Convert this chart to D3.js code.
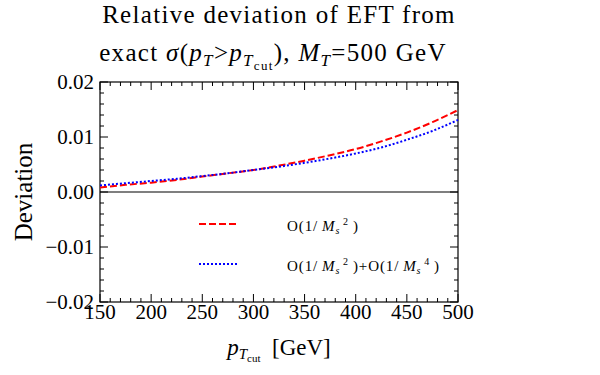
<!DOCTYPE html>
<html>
<head>
<meta charset="utf-8">
<script src="https://cdn.jsdelivr.net/npm/d3@7"></script>
<style>
  body { margin: 0; background: #fff; }
  text { font-family: "Liberation Serif", "DejaVu Serif", serif; fill: #000; }
</style>
</head>
<body>
<div id="chart"></div>
<script>
// values
const pTcut = [150, 175, 200, 225, 250, 275, 300, 325, 350, 375, 400, 425, 450, 475, 500];
const devMs2 = [0.0008, 0.0013, 0.0017, 0.0022, 0.0028, 0.0034, 0.0040, 0.0048, 0.0057, 0.0067, 0.0078, 0.0092, 0.0108, 0.0127, 0.0149];
const devMs2Ms4 = [0.0012, 0.0016, 0.0020, 0.0024, 0.0029, 0.0034, 0.0040, 0.0046, 0.0053, 0.0061, 0.0070, 0.0081, 0.0095, 0.0111, 0.0131];
const xTicks = [150, 200, 250, 300, 350, 400, 450, 500];
const yTicks = [-0.02, -0.01, 0.00, 0.01, 0.02];

const width = 600, height = 375;
const margin = {left: 100, right: 142, top: 82, bottom: 73};

const svg = d3.select("#chart").append("svg")
    .attr("width", width)
    .attr("height", height);

const x = d3.scaleLinear().domain([150, 500]).range([margin.left, width - margin.right]);
const y = d3.scaleLinear().domain([-0.02, 0.02]).range([height - margin.bottom, margin.top]);

const [x0, x1] = x.range();
const [y0, y1] = y.range(); // y0 bottom, y1 top

// frame ticks (inward, on all four sides)
const ticks = svg.append("g").attr("stroke", "#000").attr("stroke-width", 1);
const xMinor = d3.range(150, 501, 10);
const yMinor = d3.range(-0.02, 0.0201, 0.002);
xMinor.forEach(v => {
  const len = xTicks.includes(v) ? 8 : 4;
  ticks.append("line").attr("x1", x(v)).attr("x2", x(v)).attr("y1", y0).attr("y2", y0 - len);
  ticks.append("line").attr("x1", x(v)).attr("x2", x(v)).attr("y1", y1).attr("y2", y1 + len);
});
yMinor.forEach(v => {
  const major = yTicks.some(t => Math.abs(t - v) < 1e-9);
  const len = major ? 8 : 4;
  ticks.append("line").attr("y1", y(v)).attr("y2", y(v)).attr("x1", x0).attr("x2", x0 + len);
  ticks.append("line").attr("y1", y(v)).attr("y2", y(v)).attr("x1", x1).attr("x2", x1 - len);
});

// zero line
svg.append("line")
    .attr("x1", x0).attr("x2", x1)
    .attr("y1", y(0)).attr("y2", y(0))
    .attr("stroke", "#000").attr("stroke-width", 1.2);

// frame
svg.append("rect")
    .attr("x", x0).attr("y", y1)
    .attr("width", x1 - x0).attr("height", y0 - y1)
    .attr("fill", "none").attr("stroke", "#000").attr("stroke-width", 1.2);

// tick labels
svg.append("g").selectAll("text")
  .data(xTicks)
  .join("text")
    .attr("x", d => x(d))
    .attr("y", y0 + 17)
    .attr("text-anchor", "middle")
    .attr("font-size", 21)
    .text(d => d);

svg.append("g").selectAll("text")
  .data(yTicks)
  .join("text")
    .attr("x", x0 - 6)
    .attr("y", d => y(d) + 7)
    .attr("text-anchor", "end")
    .attr("font-size", 21)
    .text(d => (d < 0 ? "\u2212" : "") + Math.abs(d).toFixed(2));

// curves
const line = d3.line().curve(d3.curveMonotoneX);
svg.append("path")
    .attr("d", line(pTcut.map((p, i) => [x(p), y(devMs2[i])])))
    .attr("fill", "none").attr("stroke", "#ff0000")
    .attr("stroke-width", 2).attr("stroke-dasharray", "7,3");
svg.append("path")
    .attr("d", line(pTcut.map((p, i) => [x(p), y(devMs2Ms4[i])])))
    .attr("fill", "none").attr("stroke", "#0000ff")
    .attr("stroke-width", 2).attr("stroke-dasharray", "2,2");

// legend
const legend = [
  {color: "#ff0000", dash: "7,3", y: 224, terms: ["2"]},
  {color: "#0000ff", dash: "2,2", y: 264, terms: ["2", "4"]}
];
legend.forEach(l => {
  svg.append("line")
      .attr("x1", 199).attr("x2", 238).attr("y1", l.y).attr("y2", l.y)
      .attr("stroke", l.color).attr("stroke-width", 2).attr("stroke-dasharray", l.dash);
  const t = svg.append("text").attr("x", 287).attr("y", l.y + 7)
      .attr("font-size", 15).attr("letter-spacing", 0.9);
  l.terms.forEach((p, i) => {
    if (i > 0) t.append("tspan").text("+");
    t.append("tspan").text("O(1/\u2009");
    t.append("tspan").attr("font-style", "italic").text("M");
    t.append("tspan").attr("font-style", "italic").attr("font-size", 10).attr("dy", 3).text("s");
    t.append("tspan").attr("font-size", 10).attr("dy", -9).text("\u2009" + p);
    t.append("tspan").attr("dy", 6).text("\u2009)");
  });
});

// title
const cx = (x0 + x1) / 2;
svg.append("text")
    .attr("x", cx).attr("y", 23)
    .attr("text-anchor", "middle").attr("font-size", 25)
    .attr("letter-spacing", 1.3)
    .text("Relative deviation of EFT from");
const t2 = svg.append("text")
    .attr("x", cx - 6).attr("y", 61)
    .attr("text-anchor", "middle").attr("font-size", 25)
    .attr("letter-spacing", 1.3);
t2.append("tspan").text("exact ");
t2.append("tspan").attr("font-style", "italic").text("\u03c3");
t2.append("tspan").text("(");
t2.append("tspan").attr("font-style", "italic").text("p");
t2.append("tspan").attr("font-style", "italic").attr("font-size", 17).attr("dy", 5).text("T");
t2.append("tspan").attr("dy", -5).text(">");
t2.append("tspan").attr("font-style", "italic").text("p");
t2.append("tspan").attr("font-style", "italic").attr("font-size", 17).attr("dy", 5).text("T");
t2.append("tspan").attr("font-size", 13).attr("dy", 4).text("cut");
t2.append("tspan").attr("dy", -9).text("), ");
t2.append("tspan").attr("font-style", "italic").text("M");
t2.append("tspan").attr("font-style", "italic").attr("font-size", 17).attr("dy", 5).text("T");
t2.append("tspan").attr("dy", -5).text("=500 GeV");

// axis titles
const xl = svg.append("text")
    .attr("x", cx).attr("y", 355)
    .attr("text-anchor", "middle").attr("font-size", 23);
xl.append("tspan").attr("font-style", "italic").text("p");
xl.append("tspan").attr("font-style", "italic").attr("font-size", 15).attr("dy", 4).text("T");
xl.append("tspan").attr("font-size", 11).attr("dy", 3).text("cut");
xl.append("tspan").attr("dy", -7).text("\u2002[GeV]");

svg.append("text")
    .attr("transform", `translate(32,${(y0 + y1) / 2}) rotate(-90)`)
    .attr("text-anchor", "middle").attr("font-size", 25)
    .text("Deviation");
</script>
</body>
</html>
